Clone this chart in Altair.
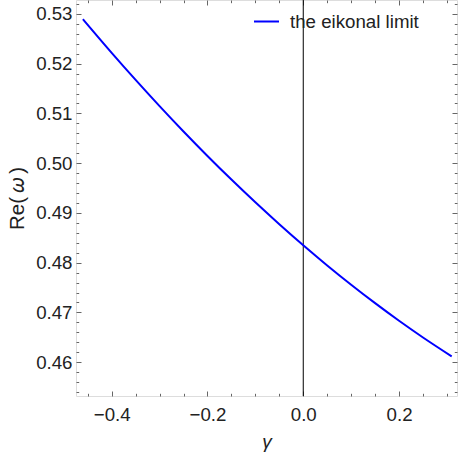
import altair as alt
import pandas as pd

# ---- data ----
gamma = [-0.46, -0.40, -0.35, -0.30, -0.25, -0.20, -0.15, -0.10, -0.05,
         0.00, 0.05, 0.10, 0.15, 0.20, 0.25, 0.31]
re_omega = [0.52894, 0.52218, 0.51674, 0.51147, 0.50637, 0.50145, 0.49670, 0.49213,
            0.48773, 0.48350, 0.47945, 0.47557, 0.47186, 0.46832, 0.46496, 0.46116]
series_name = "the eikonal limit"
vline_x = [0.0]

x_major = [-0.4, -0.2, 0.0, 0.2]
x_minor = [-0.45, -0.35, -0.3, -0.25, -0.15, -0.1, -0.05,
           0.05, 0.1, 0.15, 0.25, 0.3]
y_major = [0.46, 0.47, 0.48, 0.49, 0.50, 0.51, 0.52, 0.53]
y_minor = [0.454, 0.456, 0.458,
           0.462, 0.464, 0.466, 0.468,
           0.472, 0.474, 0.476, 0.478,
           0.482, 0.484, 0.486, 0.488,
           0.492, 0.494, 0.496, 0.498,
           0.502, 0.504, 0.506, 0.508,
           0.512, 0.514, 0.516, 0.518,
           0.522, 0.524, 0.526, 0.528,
           0.532]

x_domain = [-0.4745, 0.321]
y_domain = [0.4532, 0.5328]

df = pd.DataFrame({"gamma": gamma, "re": re_omega, "series": [series_name] * len(gamma)})
vdf = pd.DataFrame({"x0": vline_x})

FONT = "Liberation Sans"
LABEL_SIZE = 18.7
TICK_COLOR = "#666666"
LABEL_COLOR = "#222222"

xs = alt.Scale(domain=x_domain, nice=False, zero=False)
ys = alt.Scale(domain=y_domain, nice=False, zero=False)


def tick_axis(orient, values, size, labels=False, fmt=None, title=None, pad=4, **kw):
    args = dict(orient=orient, values=values, tickSize=size, offset=-size,
                domain=False, grid=False, ticks=True, tickColor=TICK_COLOR,
                tickWidth=1, labels=labels, title=title)
    if labels:
        args.update(format=fmt, labelFont=FONT, labelFontSize=LABEL_SIZE,
                    labelColor=LABEL_COLOR, labelPadding=pad)
    args.update(kw)
    return alt.Axis(**args)


line = alt.Chart(df).mark_line(strokeWidth=2, interpolate="monotone").encode(
    x=alt.X("gamma:Q", scale=xs,
            axis=tick_axis("bottom", x_major, 5, labels=True, fmt=".1f", title="γ", pad=9,
                           titleFont=FONT, titleFontSize=19, titleFontStyle="italic",
                           titleFontWeight="normal", titleColor=LABEL_COLOR, titlePadding=9)),
    y=alt.Y("re:Q", scale=ys,
            axis=tick_axis("left", y_major, 5, labels=True, fmt=".2f",
                           title="Re(\u2009𝜔\u2009)", pad=4,
                           titleFont=FONT, titleFontSize=20.5, titleFontWeight="normal",
                           titleColor=LABEL_COLOR, titlePadding=8)),
    color=alt.Color("series:N", scale=alt.Scale(range=["#0000ff"]),
                    legend=alt.Legend(title=None, orient="none", legendX=177, legendY=8,
                                      symbolType="stroke", symbolSize=625,
                                      symbolStrokeWidth=2, labelFont=FONT,
                                      labelFontSize=LABEL_SIZE, labelColor=LABEL_COLOR,
                                      labelOffset=10)),
)


def ghost(xaxis, yaxis):
    return alt.Chart(df).mark_line(opacity=0).encode(
        x=alt.X("gamma:Q", scale=xs, axis=xaxis),
        y=alt.Y("re:Q", scale=ys, axis=yaxis),
    )


g_minor = ghost(tick_axis("bottom", x_minor, 2.7), tick_axis("left", y_minor, 2.7))
g_major_far = ghost(tick_axis("top", x_major, 5), tick_axis("right", y_major, 5))
g_minor_far = ghost(tick_axis("top", x_minor, 2.7), tick_axis("right", y_minor, 2.7))

vline = alt.Chart(vdf).mark_rule(color="black", strokeWidth=1).encode(
    x=alt.X("x0:Q", scale=xs, axis=None)
)

chart = alt.layer(vline, line, g_minor, g_major_far, g_minor_far).resolve_axis(
    x="independent", y="independent"
).properties(
    width=381, height=396,
    padding={"left": 76, "top": 0, "right": 1, "bottom": 64},
    autosize=alt.AutoSizeParams(type="none"),
).configure_view(
    stroke="#999999", strokeWidth=1
).configure(background="white")

chart.save("out.html", embed_options={"renderer": "svg", "actions": False})
